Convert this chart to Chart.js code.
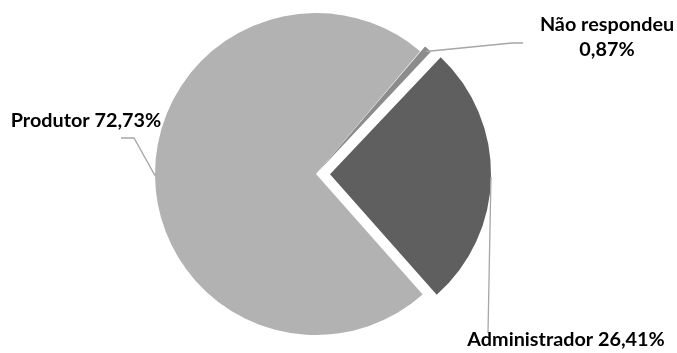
<!DOCTYPE html>
<html>
<head>
<meta charset="utf-8">
<script src="https://cdn.jsdelivr.net/npm/chart.js@4.4.0/dist/chart.umd.min.js"></script>
<style>
  html, body { margin: 0; padding: 0; background: #fff; }
  #pie { display: block; }
</style>
</head>
<body>
<canvas id="pie" width="677" height="353"></canvas>
<script>
const categories = ["Produtor", "Não respondeu", "Administrador"];
const shares = [72.73, 0.87, 26.41];
const sliceColors = ["#b2b2b2", "#8c8c8c", "#5f5f5f"];
const sliceOffsets = [0, 14, 56];

// where each label sits and how its leader line bends (canvas px)
const labelLayout = [
  { lines: ["Produtor 72,73%"], x: 86, y: 121, bends: [[134, 138], [121, 138]] },
  { lines: ["Não respondeu", "0,87%"], x: 607, y: 25, bends: [[512, 43], [523, 43]] },
  { lines: ["Administrador 26,41%"], x: 566, y: 340, bends: [[488, 333]] },
];

const leaderLabels = {
  id: "leaderLabels",
  afterDatasetsDraw(chart) {
    const ctx = chart.ctx;
    const arcs = chart.getDatasetMeta(0).data;
    ctx.save();
    arcs.forEach((arc, i) => {
      const lay = labelLayout[i];
      const mid = (arc.startAngle + arc.endAngle) / 2;
      const off = (arc.options.offset || 0) / 4;
      const r = arc.outerRadius + off;
      const sx = arc.x + Math.cos(mid) * r;
      const sy = arc.y + Math.sin(mid) * r;

      ctx.strokeStyle = "#a6a6a6";
      ctx.lineWidth = 1.3;
      ctx.beginPath();
      ctx.moveTo(sx, sy);
      lay.bends.forEach(([bx, by]) => ctx.lineTo(bx, by));
      ctx.stroke();

      ctx.fillStyle = "#000";
      ctx.font = "bold 19.8px Lato";
      ctx.textAlign = "center";
      ctx.textBaseline = "middle";
      lay.lines.forEach((t, k) => ctx.fillText(t, lay.x, lay.y + k * 25));
    });
    ctx.restore();
  },
};

new Chart(document.getElementById("pie"), {
  type: "pie",
  data: {
    labels: categories,
    datasets: [
      {
        data: shares,
        backgroundColor: sliceColors,
        offset: sliceOffsets,
        borderWidth: 0,
        radius: 161,
      },
    ],
  },
  options: {
    responsive: false,
    animation: false,
    rotation: 138.5,
    layout: { padding: { left: 0, right: 45, top: 0, bottom: 5 } },
    plugins: {
      legend: { display: false },
      tooltip: { enabled: false },
    },
  },
  plugins: [leaderLabels],
});
</script>
</body>
</html>
